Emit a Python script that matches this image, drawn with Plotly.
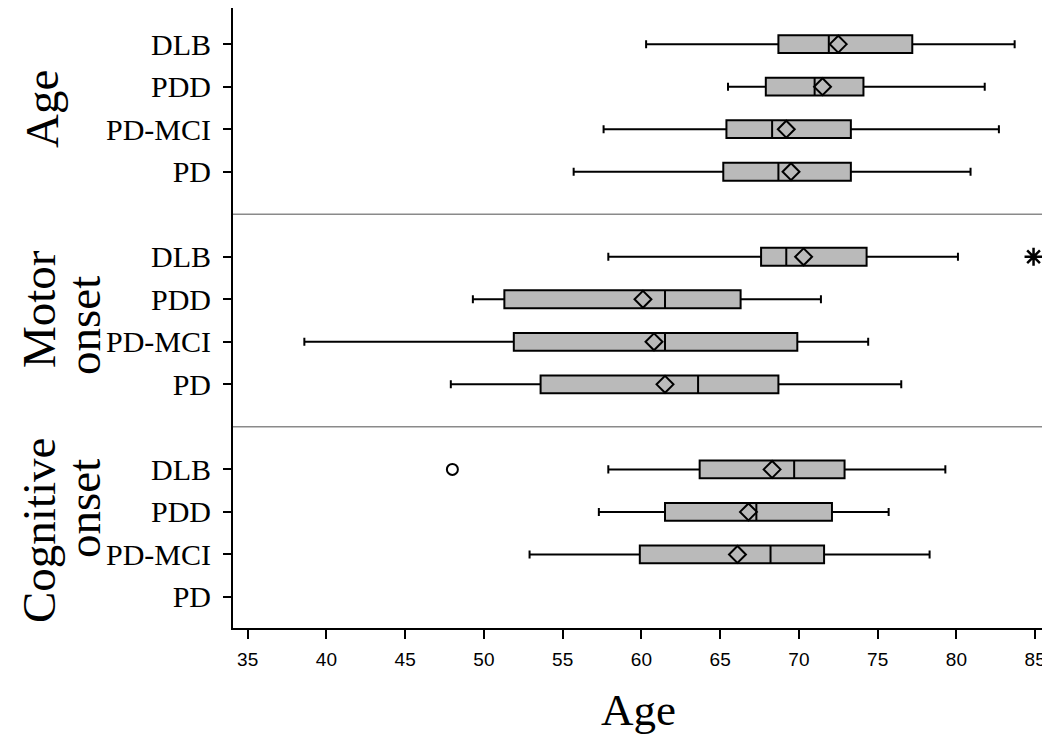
import plotly.graph_objects as go

groups = ["DLB", "PDD", "PD-MCI", "PD"]
panels = ["Age", "Motor onset", "Cognitive onset"]

# Age
age_lo = [60.3, 65.5, 57.6, 55.7]
age_q1 = [68.7, 67.9, 65.4, 65.2]
age_med = [71.9, 71.0, 68.3, 68.7]
age_mean = [72.5, 71.5, 69.2, 69.5]
age_q3 = [77.2, 74.1, 73.3, 73.3]
age_hi = [83.7, 81.8, 82.7, 80.9]

# Motor onset
mot_lo = [57.9, 49.3, 38.6, 47.9]
mot_q1 = [67.6, 51.3, 51.9, 53.6]
mot_med = [69.2, 61.5, 61.5, 63.6]
mot_mean = [70.3, 60.1, 60.8, 61.5]
mot_q3 = [74.3, 66.3, 69.9, 68.7]
mot_hi = [80.1, 71.4, 74.4, 76.5]
mot_outlier_group = ["DLB"]
mot_outlier_val = [84.9]

# Cognitive onset (no PD data)
cog_lo = [57.9, 57.3, 52.9, None]
cog_q1 = [63.7, 61.5, 59.9, None]
cog_med = [69.7, 67.3, 68.2, None]
cog_mean = [68.3, 66.8, 66.1, None]
cog_q3 = [72.9, 72.1, 71.6, None]
cog_hi = [79.3, 75.7, 78.3, None]
cog_outlier_group = ["DLB"]
cog_outlier_val = [48.0]

xticks = [35, 40, 45, 50, 55, 60, 65, 70, 75, 80, 85]

SERIF = "Liberation Serif"
SANS = "Liberation Sans"
BOXFILL = "#bababa"

# page body has an 8px margin; figure is sized so the plot lands where the reference has it
OFF = 8
W, H = 1050 - OFF, 738 - OFF
L, R, T, B = 233 - OFF, 7, 0, 738 - 628
PW = W - L - R
PH = H - T - B
Y_TOP, Y_BOT = 14.85, 0.27
PXU = PH / (Y_TOP - Y_BOT)


def pos(panel_idx, group):
    return 14 - 5 * panel_idx - groups.index(group)


def img_y_to_data(py):
    # image pixel row -> data y
    return Y_TOP - (py - OFF - T) / PXU


def img_x_to_paper(px):
    return (px - OFF - L) / PW


stats = [
    (age_lo, age_q1, age_med, age_mean, age_q3, age_hi),
    (mot_lo, mot_q1, mot_med, mot_mean, mot_q3, mot_hi),
    (cog_lo, cog_q1, cog_med, cog_mean, cog_q3, cog_hi),
]

fig = go.Figure()

for p, (lo, q1, med, mean, q3, hi) in enumerate(stats):
    for i, g in enumerate(groups):
        if q1[i] is None:
            continue
        y = pos(p, g)
        fig.add_trace(go.Box(
            orientation="h",
            y=[y],
            q1=[q1[i]], median=[med[i]], q3=[q3[i]],
            lowerfence=[lo[i]], upperfence=[hi[i]],
            boxpoints=False,
            width=0.42,
            whiskerwidth=0.45,
            fillcolor=BOXFILL,
            line=dict(color="black", width=2),
            showlegend=False,
            hoverinfo="skip",
        ))
        fig.add_trace(go.Scatter(
            x=[mean[i]], y=[y], mode="markers",
            marker=dict(symbol="diamond-open", size=13,
                        line=dict(color="black", width=2), color="black"),
            showlegend=False, hoverinfo="skip",
        ))

fig.add_trace(go.Scatter(
    x=mot_outlier_val, y=[pos(1, g) for g in mot_outlier_group], mode="markers",
    marker=dict(symbol="asterisk-open", size=15,
                line=dict(color="black", width=2.5), color="black"),
    showlegend=False, hoverinfo="skip",
))
fig.add_trace(go.Scatter(
    x=cog_outlier_val, y=[pos(2, g) for g in cog_outlier_group], mode="markers",
    marker=dict(symbol="circle-open", size=11,
                line=dict(color="black", width=2), color="black"),
    showlegend=False, hoverinfo="skip",
))

tickvals = [pos(p, g) for p in range(3) for g in groups]
ticktext = [g for p in range(3) for g in groups]

shapes = []
for yv in (10, 5):
    shapes.append(dict(type="line", xref="paper", yref="y", x0=0, x1=1,
                       y0=yv, y1=yv, line=dict(color="#8a8a8a", width=1.5)))


def side(text, px, py):
    return dict(text=text, x=img_x_to_paper(px), y=img_y_to_data(py),
                xref="paper", yref="y", textangle=-90, showarrow=False,
                xanchor="center", yanchor="middle",
                font=dict(family=SERIF, size=47, color="black"))


annotations = [
    side("Age", 42, 109),
    side("Motor", 39, 309),
    side("onset", 84, 326),
    side("Cognitive", 39, 531),
    side("onset", 84, 509),
    dict(text="Age", x=0.5, y=-(710 - 628) / PH,
         xref="paper", yref="paper", showarrow=False,
         xanchor="center", yanchor="middle",
         font=dict(family=SERIF, size=45, color="black")),
]

fig.update_layout(
    width=W, height=H,
    margin=dict(l=L, r=R, t=T, b=B, pad=0),
    paper_bgcolor="white", plot_bgcolor="white",
    shapes=shapes, annotations=annotations,
    showlegend=False,
    xaxis=dict(
        range=[34.07, 85.5], tickvals=xticks, ticktext=[str(v) for v in xticks],
        showline=True, linecolor="black", linewidth=2,
        ticks="outside", ticklen=9, tickwidth=2, tickcolor="black",
        showgrid=False, zeroline=False,
        tickfont=dict(family=SANS, size=19, color="black"),
        ticklabelstandoff=4,
    ),
    yaxis=dict(
        range=[Y_BOT, Y_TOP], tickvals=tickvals, ticktext=ticktext,
        showline=True, linecolor="black", linewidth=2,
        ticks="outside", ticklen=8, tickwidth=2, tickcolor="black",
        showgrid=False, zeroline=False,
        tickfont=dict(family=SERIF, size=30, color="black"),
        ticklabelstandoff=6,
    ),
)

fig.write_html("out.html")
